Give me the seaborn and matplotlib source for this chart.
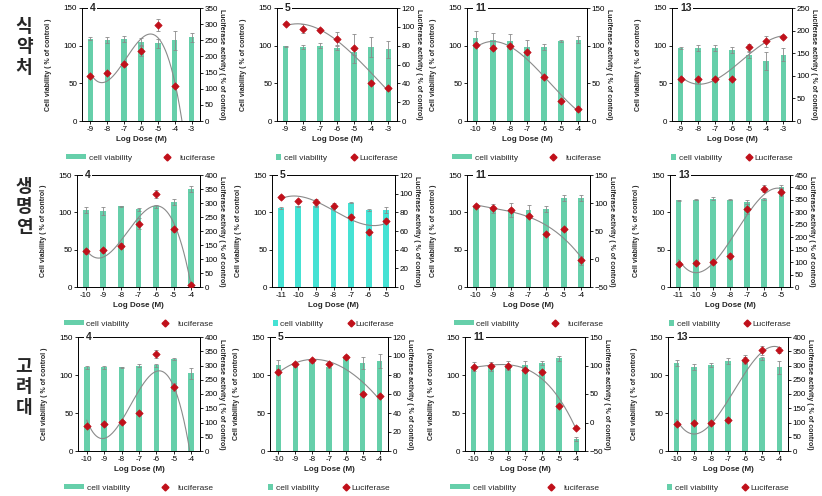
import numpy as np
import pandas as pd
import matplotlib
matplotlib.use("Agg")
import matplotlib.pyplot as plt
import seaborn as sns
from matplotlib.lines import Line2D
from matplotlib.patches import Patch

sns.set_theme(style="white")
plt.rcParams['font.family'] = ['Liberation Sans', 'DejaVu Sans']

nan = np.nan
# ---- data ----
dose_9_3 = [-9, -8, -7, -6, -5, -4, -3]
dose_10_4 = [-10, -9, -8, -7, -6, -5, -4]
dose_11_5 = [-11, -10, -9, -8, -7, -6, -5]

row_labels = ['식\n약\n처', '생\n명\n연', '고\n려\n대']
compounds = ['4', '5', '11', '13']

# row 1 (식약처)
r1c1_via = [109, 107, 109, 105, 103, 107, 111]
r1c1_via_err = [2, 4, 4, 5, 6, 13, 6]
r1c1_luc = [138, 149, 178, 218, 298, 109, nan]
r1c1_luc_err = [6, 5, 7, 16, 19, 7, nan]

r1c2_via = [99, 98, 100, 97, 91, 98, 95]
r1c2_via_err = [1, 3, 3, 3, 3, 13, 11]
r1c2_luc = [103.5, 98, 97, 87.5, 77, 40, 35.5]
r1c2_luc_err = [2, 5, 2, 7, 15, 2, 2]

r1c3_via = [110, 108, 106, 98, 98, 106, 108]
r1c3_via_err = [9, 9, 9, 9, 4, 1, 5]
r1c3_luc = [101, 97.5, 99, 91, 58.7, 26.5, 16.3]
r1c3_luc_err = [3, 3, 3, 3, 3, 3, 3]

r1c4_via = [97, 97, 97, 94, 88, 80, 88]
r1c4_via_err = [1, 4, 4, 4, 4, 12, 9]
r1c4_luc = [94, 92, 94, 93, 163, 176, 186]
r1c4_luc_err = [3, 3, 3, 3, 8, 12, 4]

# row 2 (생명연)
r2c1_via = [103, 102, 108, 104, 108, 114, 131]
r2c1_via_err = [4, 5, 1, 2, 2, 4, 4]
r2c1_luc = [127, 131, 148, 226, 332, 206, 8]
r2c1_luc_err = [8, 10, 10, 20, 14, 10, 5]

r2c2_via = [106, 108, 108, 107, 113, 103, 103]
r2c2_via_err = [1, 1, 1, 1, 1, 1, 4]
r2c2_luc = [96.8, 92.6, 90.8, 87.2, 74.8, 58.7, 71.2]
r2c2_luc_err = [2, 2, 3, 3, 3, 3, 3]

r2c3_via = [108, 105, 103, 103, 104, 119, 119]
r2c3_via_err = [1, 6, 9, 7, 4, 4, 4]
r2c3_luc = [95.4, 91.8, 87.7, 76.8, 44.7, 53.3, -2]
r2c3_luc_err = [3, 3, 3, 3, 3, 3, 8]

r2c4_via = [116, 117, 118, 117, 114, 118, 134]
r2c4_via_err = [1, 1, 2, 1, 3, 1, 3]
r2c4_luc = [93.5, 96, 99, 125, 314, 395, 382]
r2c4_luc_err = [8, 8, 8, 10, 20, 15, 15]

# row 3 (고려대)
r3c1_via = [110, 110, 110, 112, 113, 121, 102]
r3c1_via_err = [2, 2, 1, 2, 2, 1, 7]
r3c1_luc = [88, 94, 103.5, 134, 340, 225, -40]   # last point lies below the axis (hidden)
r3c1_luc_err = [5, 5, 5, 5, 15, 15, nan]

r3c2_via = [113, 113, 118, 111, 124, 116, 118]
r3c2_via_err = [7, 2, 2, 2, 2, 8, 9]
r3c2_luc = [83.6, 91.4, 95.3, 91.4, 98.8, 60, 57.9]
r3c2_luc_err = [3, 2, 2, 2, 2, 2, 2]

r3c3_via = [111, 111, 112.5, 113, 116, 122, 16]
r3c3_via_err = [6, 6, 6, 6, 3, 3, 3]
r3c3_luc = [98.2, 98.8, 100, 92.9, 88.8, 28.9, -8.8]
r3c3_luc_err = [3, 3, 3, 3, 3, 3, 3]

r3c4_via = [116, 111, 113, 118, 120, 122, 110]
r3c4_via_err = [4, 4, 3, 4, 6, 2, 9]
r3c4_luc = [94, 96.5, 100, 108, 320, 353, 355]
r3c4_luc_err = [5, 5, 5, 5, 10, 15, 10]

# right axis ranges (min, max, step)
right_axis = [
    [(0, 350, 50), (0, 120, 20), (0, 150, 50), (0, 250, 50)],
    [(0, 400, 50), (0, 120, 20), (-50, 150, 50), (0, 450, 50)],
    [(0, 400, 50), (0, 120, 20), (-50, 150, 50), (0, 400, 50)],
]
doses = [
    [dose_9_3, dose_9_3, dose_10_4, dose_9_3],
    [dose_10_4, dose_11_5, dose_10_4, dose_11_5],
    [dose_10_4, dose_10_4, dose_10_4, dose_10_4],
]
panels = [
    [(r1c1_via, r1c1_via_err, r1c1_luc, r1c1_luc_err), (r1c2_via, r1c2_via_err, r1c2_luc, r1c2_luc_err),
     (r1c3_via, r1c3_via_err, r1c3_luc, r1c3_luc_err), (r1c4_via, r1c4_via_err, r1c4_luc, r1c4_luc_err)],
    [(r2c1_via, r2c1_via_err, r2c1_luc, r2c1_luc_err), (r2c2_via, r2c2_via_err, r2c2_luc, r2c2_luc_err),
     (r2c3_via, r2c3_via_err, r2c3_luc, r2c3_luc_err), (r2c4_via, r2c4_via_err, r2c4_luc, r2c4_luc_err)],
    [(r3c1_via, r3c1_via_err, r3c1_luc, r3c1_luc_err), (r3c2_via, r3c2_via_err, r3c2_luc, r3c2_luc_err),
     (r3c3_via, r3c3_via_err, r3c3_luc, r3c3_luc_err), (r3c4_via, r3c4_via_err, r3c4_luc, r3c4_luc_err)],
]
luc_names = ['luciferase', 'Luciferase', 'luciferase', 'Luciferase']

# ---- layout (pixels) ----
W, H = 822, 496
row_y = [(8, 121), (175, 287), (337, 451)]
col_x = [
    [(82, 200), (277, 397), (467, 587), (672, 792)],
    [(77, 200), (272, 395), (467, 590), (670, 790)],
    [(78, 200), (270, 388), (465, 585), (668, 788)],
]
row_label_y = [47, 207, 387]

fig = plt.figure(figsize=(W / 100, H / 100), dpi=100)
fig.patch.set_facecolor('white')

bar_green = '#66cfaa'
bar_cyan = '#45e2d4'
red = '#c0101a'
gray = '#8a8a8a'
fs_tick = 5.8
fs_lab = 5.0

for r in range(3):
    y0, y1 = row_y[r]
    for c in range(4):
        x0, x1 = col_x[r][c]
        ax = fig.add_axes([x0 / W, 1 - y1 / H, (x1 - x0) / W, (y1 - y0) / H])
        via, via_err, luc, luc_err = panels[r][c]
        d = doses[r][c]
        df = pd.DataFrame({'dose': d, 'via': via})
        color = bar_cyan if (r == 1 and c == 1) else bar_green
        sns.barplot(data=df, x='dose', y='via', ax=ax, color=color, width=0.33,
                    saturation=1, errorbar=None, edgecolor='none')
        pos = np.arange(len(d))
        ax.errorbar(pos, via, yerr=via_err, fmt='none', ecolor=gray, elinewidth=0.6,
                    capsize=1.5, capthick=0.6, zorder=3)
        ax.set_xlim(-0.5, len(d) - 0.5)
        ax.set_ylim(0, 150)
        ax.set_yticks([0, 50, 100, 150])
        ax.set_xlabel('Log Dose (M)', fontsize=5.8, fontweight='bold', labelpad=2)
        ax.set_ylabel('Cell viability ( % of control )', fontsize=fs_lab, fontweight='bold')
        wpx = x1 - x0
        ax.yaxis.set_label_coords(-30 / wpx, 0.5)
        ax.tick_params(axis='both', labelsize=fs_tick, length=2, width=0.6,
                       direction='out', pad=1.5, colors='black')
        ax.tick_params(left=True, bottom=True)
        for s in ax.spines.values():
            s.set_color('black')
            s.set_linewidth(0.7)

        ax2 = ax.twinx()
        lo, hi, st = right_axis[r][c]
        luc_a = np.array(luc, dtype=float)
        err_a = np.array(luc_err, dtype=float)
        ok = ~np.isnan(luc_a)
        coef = np.polyfit(pos[ok], luc_a[ok], 3)
        xs = np.linspace(0, len(d) - 1, 200)
        sns.lineplot(x=xs, y=np.polyval(coef, xs), ax=ax2, color=gray, linewidth=0.8)
        eok = ok & ~np.isnan(err_a)
        ax2.errorbar(pos[eok], luc_a[eok], yerr=err_a[eok], fmt='none', ecolor=gray,
                     elinewidth=0.6, capsize=1.5, capthick=0.6, zorder=4)
        sns.scatterplot(x=pos[ok], y=luc_a[ok], ax=ax2, marker='D', color=red, s=14,
                        edgecolor=red, linewidth=0.5, zorder=5)
        ax2.set_ylim(lo, hi)
        ax2.set_yticks(np.arange(lo, hi + 1, st))
        ax2.set_xlim(-0.5, len(d) - 0.5)
        ax2.tick_params(axis='y', labelsize=fs_tick, length=2, width=0.6,
                        direction='out', pad=1.5, colors='black', right=True)
        ax2.set_ylabel('Luciferase activity ( % of control)', fontsize=fs_lab,
                       fontweight='bold', rotation=270)
        ax2.yaxis.set_label_coords(1 + 25 / wpx, 0.5)
        for k, s in ax2.spines.items():
            s.set_visible(k == 'right')
            s.set_color('black')
            s.set_linewidth(0.7)
        ax2.grid(False)
        ax.grid(False)

        ax2.text(8 / wpx, 1.0, compounds[c], transform=ax2.transAxes, fontsize=7.5,
                 fontweight='bold', va='center', ha='left', zorder=20, clip_on=False,
                 bbox=dict(facecolor='white', edgecolor='none', pad=1.2))

        if c in (0, 2):
            h1 = Patch(facecolor=color, edgecolor='none')
            hl, hh = 2.4, 0.45
        else:
            h1 = Patch(facecolor=color, edgecolor='none')
            hl, hh = 0.6, 0.6
        h2 = Line2D([], [], marker='D', color=red, linestyle='none', markersize=3.5)
        ax.legend([h1, h2], ['cell viability', luc_names[c]], loc='center',
                  bbox_to_anchor=(0.5, -37 / (y1 - y0)), ncol=2, frameon=False,
                  fontsize=6.0, handlelength=hl, handleheight=hh, handletextpad=0.3,
                  columnspacing=3.0, borderaxespad=0)

    fig.text(24 / W, 1 - row_label_y[r] / H, row_labels[r], fontsize=13, fontweight='bold',
             family=['Noto Sans CJK KR', 'DejaVu Sans'], ha='center', va='center',
             linespacing=1.1)

fig.savefig('out.png', dpi=100, facecolor='white')
